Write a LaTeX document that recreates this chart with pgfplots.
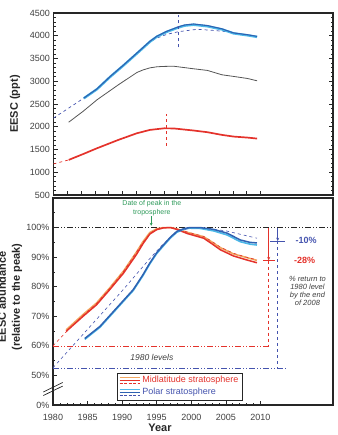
\documentclass[border=0pt]{standalone}
\usepackage{pgfplots}
\pgfplotsset{compat=1.18}
\usepackage{fontspec}
\setmainfont{Liberation Sans}
\usetikzlibrary{arrows.meta}

\definecolor{midred}{HTML}{E4322B}
\definecolor{midorange}{HTML}{F2A55E}
\definecolor{polblue}{HTML}{2F62B2}
\definecolor{polcyan}{HTML}{4BB8E8}
\definecolor{navydash}{HTML}{4453AE}
\definecolor{eescgray}{HTML}{555555}
\definecolor{peakgreen}{HTML}{2E9A5A}
\definecolor{axisdark}{HTML}{262626}

\tikzset{
  ddot/.style={dash pattern=on 6pt off 2pt on 1pt off 2pt on 1pt off 2pt},
}

\begin{document}
\begin{tikzpicture}[x=1pt,y=1pt]
\pgfplotsset{
  every axis/.append style={
    scale only axis,
    xmin=1980, xmax=2020.5,
    axis line style={line width=1.1pt, color=axisdark},
    tick style={color=axisdark, line width=0.6pt},
    tick align=inside,
    major tick length=4pt, minor tick length=2.2pt,
    /pgf/number format/assume math mode=true,
    /pgf/number format/1000 sep={},
    tick label style={font=\fontsize{9}{10}\selectfont, color=black!75},
    clip=false,
  },
}

% ---------------- upper panel: EESC in ppt ----------------
\begin{axis}[
  at={(53.5pt,240pt)}, anchor=south west,
  width=279.5pt, height=182pt,
  ymin=500, ymax=4500,
  ytick={500,1000,...,4500}, minor y tick num=4,
  ytick pos=both, yticklabel pos=left,
  xtick={1982,1984,...,2010}, xticklabels={}, xtick pos=left,
]
% polar stratosphere
\addplot[navydash, line width=0.7pt, dashed] coordinates {
 (1980,2190) (1982.2,2410) (1984.4,2630) (1986.3,2830) (1988.2,3100)
 (1990.2,3360) (1992.1,3620) (1994,3870) (1995,3950) (1996.4,4030)
 (1998.1,4089) (2000.8,4141) (2003,4120) (2005.1,4089) (2007,4040) (2009.5,3980)};
\addplot[polcyan, line width=2.4pt] coordinates {
 (1984.4,2625) (1986.3,2825) (1988.2,3095) (1990.2,3355) (1992.1,3612)
 (1994,3872) (1995,3982) (1996.4,4085) (1998.1,4182) (1999,4222)
 (2000.3,4242) (2002.3,4208) (2004.4,4140) (2006.1,4052) (2008.1,4010) (2009.5,3975)};
\addplot[polblue, line width=1.1pt] coordinates {
 (1984.4,2632) (1986.3,2832) (1988.2,3103) (1990.2,3364) (1992.1,3622)
 (1994,3882) (1995,3992) (1996.4,4097) (1998.1,4196) (1999,4236)
 (2000.3,4258) (2002.3,4224) (2004.4,4152) (2006.1,4062) (2008.1,4022) (2009.5,3986)};
% total (grey)
\addplot[eescgray, line width=0.8pt] coordinates {
 (1982.2,2100) (1984.3,2340) (1986.3,2592) (1989.4,2922) (1992.1,3194)
 (1993,3250) (1994,3295) (1995,3318) (1996,3326) (1997.4,3330) (1998.4,3311)
 (2000.3,3274) (2002.3,3238) (2004.4,3142) (2006.1,3106) (2008.1,3061) (2009.5,3010)};
% midlatitude stratosphere
\addplot[midred, line width=0.7pt, dashed] coordinates {
 (1980,1183) (1982.2,1271)};
\addplot[midred, line width=1.7pt] coordinates {
 (1982.2,1271) (1984.3,1400) (1986.3,1527) (1989.4,1711) (1992.1,1858)
 (1994,1931) (1996,1965) (1997.4,1963) (2000.3,1917) (2002.3,1880)
 (2004.4,1821) (2006.1,1784) (2008.1,1762) (2009.5,1740)};
% peak markers
\addplot[midred, line width=0.9pt, dashed] coordinates {(1996.3,1586) (1996.3,2276)};
\addplot[navydash, line width=0.9pt, dashed] coordinates {(1998.1,3744) (1998.1,4463)};
\end{axis}

% ---------------- lower panel: relative to the peak ----------------
\begin{axis}[
  at={(53pt,30pt)}, anchor=south west,
  width=280pt, height=207pt,
  ymin=40, ymax=110,
  ytick={40,50,...,100},
  yticklabels={0\%,50\%,60\%,70\%,80\%,90\%,100\%},
  minor ytick={55,65,75,85,95,105},
  ytick pos=left,
  xtick={1980,1985,...,2010},
  minor xtick={1981,1982,...,2010},
  xtick pos=left,
  xticklabel style={yshift=-6pt},
  legend style={
    at={(rel axis cs:0.227,0.157)}, anchor=north west,
    draw=axisdark, line width=0.8pt,
    font=\fontsize{9}{10}\selectfont,
    inner xsep=2pt, inner ysep=1.5pt,
    row sep=0pt,
    legend cell align=left,
  },
]
\addlegendimage{legend image code/.code={
  \draw[midorange, line width=1.1pt] (0pt,2.6pt) -- (20pt,2.6pt);
  \draw[midred, line width=1.4pt] (0pt,0pt) -- (20pt,0pt);
  \draw[midred, line width=1pt, dash pattern=on 3pt off 1.5pt] (0pt,-2.6pt) -- (20pt,-2.6pt);
}}
\addlegendentry{\textcolor{midred}{Midlatitude stratosphere}}
\addlegendimage{legend image code/.code={
  \draw[polcyan, line width=1.1pt] (0pt,2.6pt) -- (20pt,2.6pt);
  \draw[polblue, line width=1.4pt] (0pt,0pt) -- (20pt,0pt);
  \draw[navydash, line width=1pt, dash pattern=on 3pt off 1.5pt] (0pt,-2.6pt) -- (20pt,-2.6pt);
}}
\addlegendentry{\textcolor{navydash}{Polar stratosphere}}

% reference levels
\addplot[axisdark, line width=0.7pt, ddot, forget plot] coordinates {(1980,100) (2020.5,100)};
\addplot[midred, line width=0.7pt, ddot, forget plot] coordinates {(1980,60) (2011.4,60)};
\addplot[navydash, line width=0.7pt, ddot, forget plot] coordinates {(1980,52.5) (2013.6,52.5)};

% midlatitude stratosphere
\addplot[midorange, line width=1.6pt, forget plot] coordinates {
 (1981.9,65.4) (1984.35,70.6) (1986.3,74.5) (1988.2,79.6) (1990.2,85.3)
 (1992.1,91.8) (1993,95.2) (1994,98.3) (1995,99.6) (1996,100) (1997,100)
 (1997.9,99.6) (1999.4,98.4) (2001.8,96.9) (2003,95.1) (2004.2,93.2)
 (2006.1,91.1) (2008.1,89.8) (2009.5,88.9)};
\addplot[midred, line width=0.6pt, dashed, forget plot] coordinates {
 (1980,60) (1981.9,64.7) (1984.35,70.3) (1986.3,74.3) (1988.2,79.4)
 (1990.2,85.2) (1992.1,91.8) (1993,95) (1994,98) (1995,99.5) (1996,100)
 (1997,100) (1997.9,99.6) (1999.4,98.5) (2001.8,97) (2003,95.3)
 (2004.2,93.4) (2006.1,91.3) (2008.1,89.9) (2009.5,89.1)};
\addplot[midred, line width=1.5pt, forget plot] coordinates {
 (1981.9,64.9) (1984.35,70) (1986.3,73.9) (1988.2,79) (1990.2,84.6)
 (1992.1,91) (1993,94.5) (1994,97.8) (1995,99.3) (1996,99.9) (1997,100)
 (1997.9,99.4) (1999.4,98) (2001.8,96.4) (2003,94.5) (2004.2,92.5)
 (2006.1,90.4) (2008.1,89) (2009.5,88.1)};

% polar stratosphere
\addplot[polcyan, line width=1.6pt, forget plot] coordinates {
 (1984.6,62.2) (1986.8,66.3) (1989.2,72.5) (1991.6,78.7) (1993,83.7)
 (1994,87.7) (1995,91.2) (1996,93.9) (1997,96.5) (1997.9,98.4) (1999,99.5)
 (1999.8,99.8) (2001.3,99.7) (2003.2,98.9) (2005.2,97.5) (2007.1,95.2)
 (2008.5,94.4) (2009.5,94.1)};
\addplot[navydash, line width=0.6pt, dashed, forget plot] coordinates {
 (1980,52.6) (1985,65.6) (1990,78.6) (1994,89.5) (1996,94.6) (1998,98.6)
 (2000,100) (2002,99.8) (2005,98.9) (2007.5,97.5) (2009.5,96.4)};
\addplot[polblue, line width=1.5pt, forget plot] coordinates {
 (1984.6,62.5) (1986.8,66.6) (1989.2,72.8) (1991.6,79) (1993,84)
 (1994,88) (1995,91.5) (1996,94.2) (1997,96.8) (1997.9,98.7) (1999,99.7)
 (1999.8,100) (2001.3,100) (2003.2,99.4) (2005.2,98.1) (2007.1,95.8)
 (2008.5,95) (2009.5,94.8)};

% return towards 1980 levels
\addplot[midred, line width=0.8pt, -{Stealth[length=3.5pt,width=3pt]}, forget plot]
  coordinates {(2011.2,100) (2011.2,88.9)};
\addplot[midred, line width=0.8pt, forget plot] coordinates {(2010.4,88.8) (2012.1,88.8)};
\addplot[midred, line width=0.8pt, dashed, forget plot] coordinates {(2011.2,88.8) (2011.2,60)};
\addplot[navydash, line width=0.8pt, -{Stealth[length=3.5pt,width=3pt]}, forget plot]
  coordinates {(2012.5,100) (2012.5,95.4)};
\addplot[navydash, line width=0.8pt, forget plot] coordinates {(2011.4,95.3) (2013.6,95.3)};
\addplot[navydash, line width=0.8pt, dashed, forget plot] coordinates {(2012.5,95.3) (2012.5,52.5)};

% tropospheric peak
\addplot[peakgreen, line width=0.8pt, -{Stealth[length=3pt,width=3pt]}, forget plot]
  coordinates {(1994.2,103.8) (1994.2,100.6)};

\node[font=\bfseries\fontsize{9}{10}\selectfont, text=navydash] at (axis cs:2016.6,95.5) {-10\%};
\node[font=\bfseries\fontsize{9}{10}\selectfont, text=midred] at (axis cs:2016.4,88.8) {-28\%};
\node[font=\itshape\fontsize{7.5}{8.2}\selectfont, text=black!75, align=center]
  at (axis cs:2016.8,78.6) {\% return to\\1980 level\\by the end\\of 2008};
\node[font=\itshape\fontsize{8.5}{10}\selectfont, text=black!75] at (axis cs:1994.3,56) {1980 levels};
\node[font=\fontsize{7}{8.6}\selectfont, text=peakgreen, align=center]
  at (axis cs:1994.3,106.6) {Date of peak in the\\troposphere};

% axis break
\draw[axisdark, line width=0.7pt] (axis cs:1978.6,44.4) -- (axis cs:1981.4,47.6);
\draw[axisdark, line width=0.7pt] (axis cs:1978.6,43.2) -- (axis cs:1981.4,46.4);
\end{axis}

% axis titles
\node[rotate=90, font=\bfseries\fontsize{11}{13}\selectfont, text=axisdark] at (15pt,331pt) {EESC (ppt)};
\node[rotate=90, font=\bfseries\fontsize{11}{14}\selectfont, text=axisdark, align=center]
  at (10pt,138pt) {EESC abundance\\(relative to the peak)};
\node[font=\bfseries\fontsize{11}{13}\selectfont, text=axisdark] at (160pt,7pt) {Year};

\pgfresetboundingbox
\useasboundingbox (0pt,0pt) rectangle (337pt,435pt);
\end{tikzpicture}
\end{document}
